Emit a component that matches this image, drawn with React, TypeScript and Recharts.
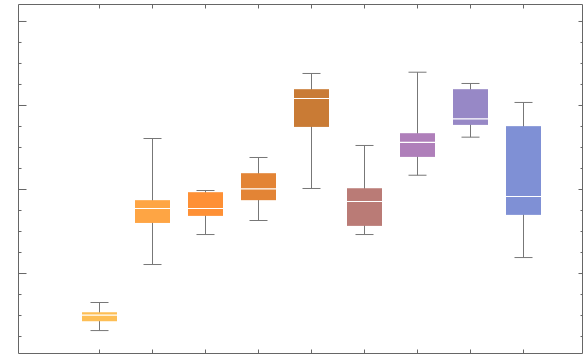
import { Bar, ComposedChart, XAxis, YAxis } from "recharts";

// nine groups, no labels in the picture
const categories = ["A", "B", "C", "D", "E", "F", "G", "H", "I"];
const whiskerLow = [3.21, 11.07, 14.64, 16.31, 20.12, 14.64, 21.7, 26.23, 11.9];
const q1 = [4.32, 16.02, 16.86, 18.73, 27.45, 15.67, 23.88, 27.69, 16.98];
const median = [5.04, 17.74, 17.74, 20.07, 30.83, 18.57, 25.6, 28.4, 19.17];
const q3 = [5.39, 18.73, 19.68, 21.94, 31.94, 20.15, 26.7, 31.94, 27.54];
const whiskerHigh = [6.55, 26.07, 19.88, 23.81, 33.81, 25.24, 33.96, 32.62, 30.36];
const yTicks = [2.5, 5, 7.5, 10, 12.5, 15, 17.5, 20, 22.5, 25, 27.5, 30, 32.5, 35, 37.5, 40];

const BOX_COLORS = [
  "#fdbe55",
  "#fea544",
  "#fe9035",
  "#e38435",
  "#c97b35",
  "#ba7b76",
  "#af7fba",
  "#9788c6",
  "#7f90d5",
];

const frame = "#666666";
const whisker = "#777777";

const data = categories.map((name, i) => ({
  name,
  range: [whiskerLow[i], whiskerHigh[i]],
  lo: whiskerLow[i],
  q1: q1[i],
  med: median[i],
  q3: q3[i],
  hi: whiskerHigh[i],
}));

function BoxShape(props: any) {
  const { x, y, width, height, payload, index } = props;
  const top = Math.min(y, y + height);
  const h = Math.abs(height);
  const { lo, hi } = payload;
  const px = (v: number) => top + (h * (hi - v)) / (hi - lo);
  const cx = x + width / 2;
  const cap = 9;
  return (
    <g>
      <line x1={cx} x2={cx} y1={px(hi)} y2={px(lo)} stroke={whisker} strokeWidth={1} />
      <line x1={cx - cap} x2={cx + cap} y1={px(hi)} y2={px(hi)} stroke={whisker} strokeWidth={1} />
      <line x1={cx - cap} x2={cx + cap} y1={px(lo)} y2={px(lo)} stroke={whisker} strokeWidth={1} />
      <rect
        x={x}
        y={px(payload.q3)}
        width={width}
        height={px(payload.q1) - px(payload.q3)}
        fill={BOX_COLORS[index % BOX_COLORS.length]}
      />
      <line x1={x} x2={x + width} y1={px(payload.med)} y2={px(payload.med)} stroke="#ffffff" strokeWidth={1.2} />
    </g>
  );
}

const isMajor = (v: number) => v % 10 === 0;

const LeftTick = ({ x, y, payload }: any) => (
  <line x1={x} x2={x + (isMajor(payload.value) ? 8 : 3)} y1={y} y2={y} stroke={frame} />
);
const RightTick = ({ x, y, payload }: any) => (
  <line x1={x} x2={x - (isMajor(payload.value) ? 4 : 2)} y1={y} y2={y} stroke={frame} />
);
const BottomTick = ({ x, y }: any) => <line x1={x} x2={x} y1={y} y2={y - 4} stroke={frame} />;
const TopTick = ({ x, y }: any) => <line x1={x} x2={x} y1={y} y2={y + 4} stroke={frame} />;

export default function App() {
  const axisLine = { stroke: frame, strokeWidth: 1 };
  const pad = { left: 54.5, right: 32.5 };
  return (
    <div style={{ position: "absolute", left: 0, top: 0, background: "#fff" }}>
      <ComposedChart
        width={584}
        height={358}
        data={data}
        margin={{ top: 3.5, right: 0.5, bottom: 3.5, left: 17.5 }}
      >
        <XAxis
          dataKey="name"
          height={1}
          padding={pad}
          axisLine={axisLine}
          tickLine={false}
          tickSize={0}
          tickMargin={0}
          tick={BottomTick}
          interval={0}
        />
        <XAxis
          xAxisId="top"
          orientation="top"
          dataKey="name"
          height={1}
          padding={pad}
          axisLine={axisLine}
          tickLine={false}
          tickSize={0}
          tickMargin={0}
          tick={TopTick}
          interval={0}
        />
        <YAxis
          type="number"
          width={1}
          domain={[0.48, 42.02]}
          allowDataOverflow
          ticks={yTicks}
          axisLine={axisLine}
          tickLine={false}
          tickSize={0}
          tickMargin={0}
          tick={LeftTick}
          interval={0}
        />
        <YAxis
          yAxisId="right"
          orientation="right"
          type="number"
          width={1}
          domain={[0.48, 42.02]}
          allowDataOverflow
          ticks={yTicks}
          axisLine={axisLine}
          tickLine={false}
          tickSize={0}
          tickMargin={0}
          tick={RightTick}
          interval={0}
        />
        <Bar dataKey="range" barSize={35} shape={BoxShape} isAnimationActive={false} />
      </ComposedChart>
    </div>
  );
}
